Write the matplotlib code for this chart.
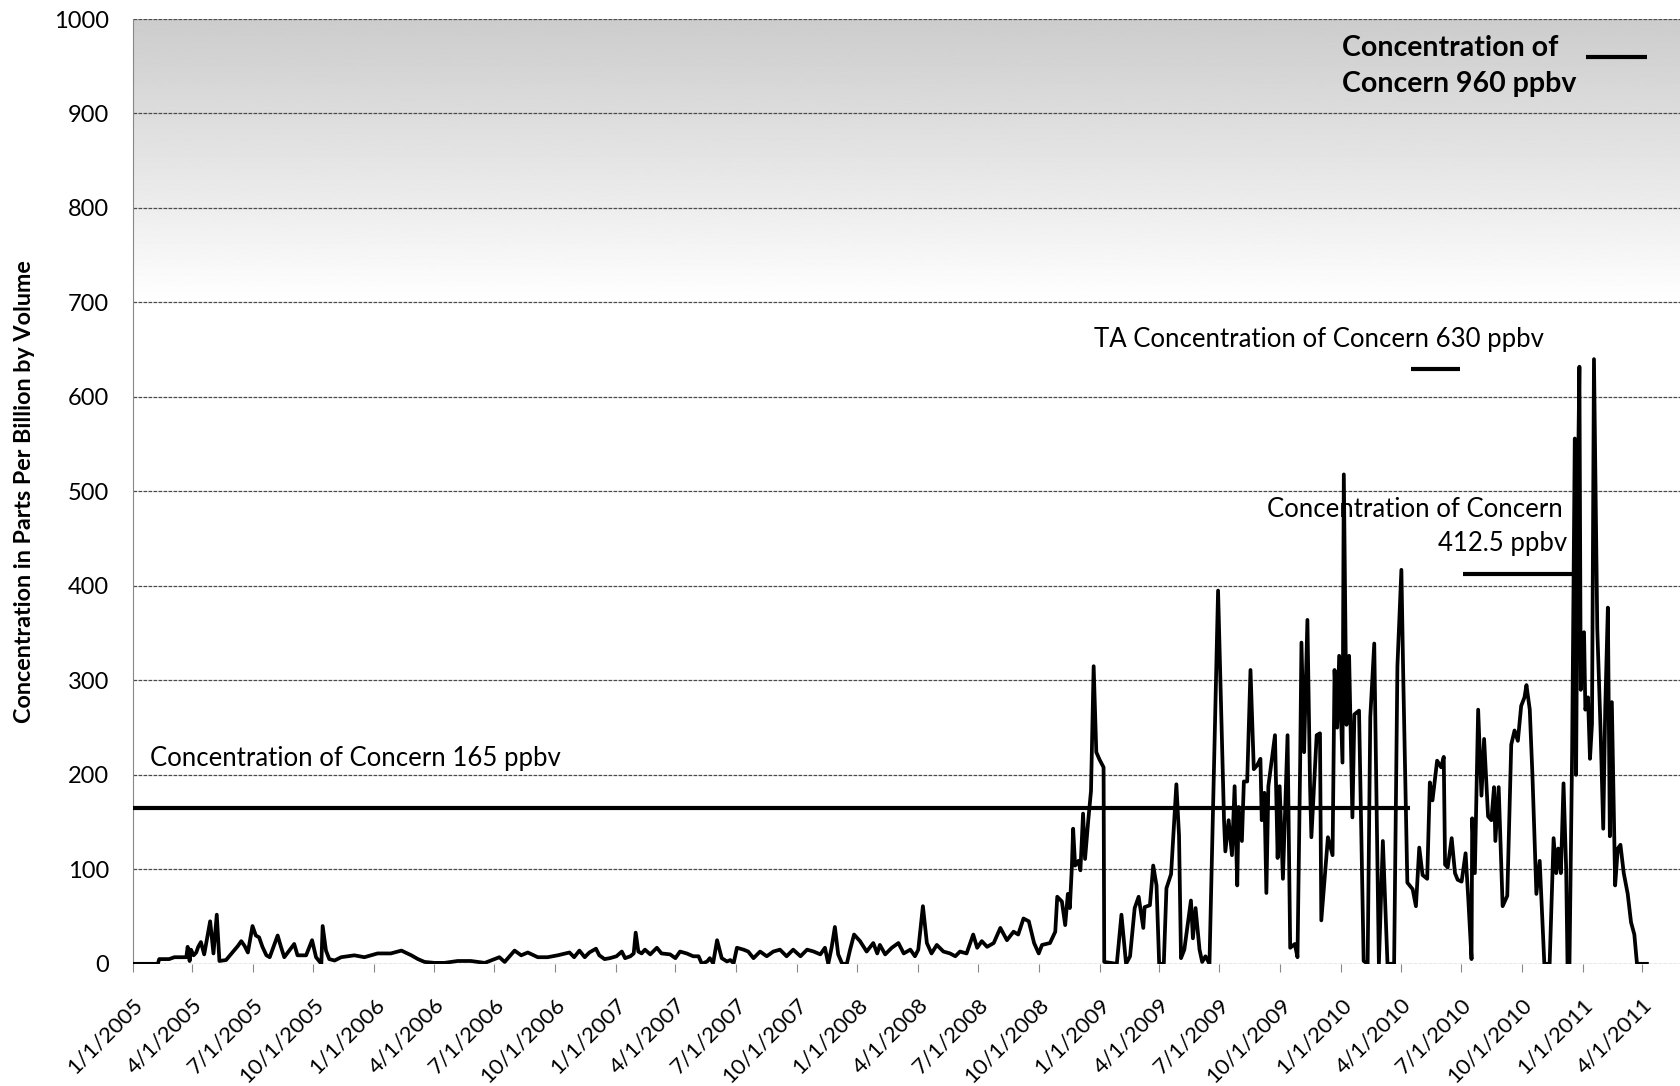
import matplotlib
matplotlib.use("Agg")
import matplotlib.pyplot as plt
import numpy as np
import pandas as pd

plt.rcParams['font.family'] = ['Lato', 'DejaVu Sans']

# ---------------- data ----------------
dates = [
    "2005-01-01", "2005-02-08", "2005-02-10", "2005-02-25", "2005-03-05", "2005-03-23", "2005-03-25",
    "2005-03-28", "2005-03-30", "2005-04-03", "2005-04-07", "2005-04-10", "2005-04-14", "2005-04-19",
    "2005-04-28", "2005-05-03", "2005-05-08", "2005-05-12", "2005-05-22", "2005-06-09", "2005-06-14",
    "2005-06-19", "2005-06-24", "2005-07-01", "2005-07-06", "2005-07-11", "2005-07-16", "2005-07-22",
    "2005-07-27", "2005-08-08", "2005-08-13", "2005-08-18", "2005-09-02", "2005-09-07", "2005-09-20",
    "2005-09-29", "2005-10-05", "2005-10-13", "2005-10-15", "2005-10-20", "2005-10-25", "2005-11-02",
    "2005-11-12", "2005-12-02", "2005-12-17", "2006-01-06", "2006-01-26", "2006-02-11", "2006-02-26",
    "2006-03-08", "2006-03-18", "2006-04-02", "2006-04-17", "2006-05-07", "2006-05-27", "2006-06-17",
    "2006-07-09", "2006-07-17", "2006-08-01", "2006-08-11", "2006-08-21", "2006-09-05", "2006-09-20",
    "2006-10-05", "2006-10-23", "2006-10-30", "2006-11-07", "2006-11-15", "2006-11-22", "2006-12-02",
    "2006-12-07", "2006-12-15",
    "2006-12-23", "2007-01-02", "2007-01-10", "2007-01-15", "2007-01-23", "2007-01-28", "2007-01-31",
    "2007-02-04", "2007-02-09", "2007-02-14", "2007-02-22", "2007-03-04", "2007-03-11", "2007-03-24",
    "2007-04-01", "2007-04-08", "2007-04-18", "2007-04-28", "2007-05-06", "2007-05-11", "2007-05-19",
    "2007-05-23", "2007-05-28", "2007-06-03", "2007-06-10", "2007-06-18", "2007-06-23", "2007-06-28",
    "2007-07-03", "2007-07-13", "2007-07-20", "2007-07-28", "2007-08-07", "2007-08-17", "2007-08-27",
    "2007-09-06", "2007-09-16", "2007-09-26", "2007-10-07", "2007-10-17", "2007-10-27", "2007-11-06",
    "2007-11-13", "2007-11-18", "2007-11-23", "2007-11-28", "2007-12-03", "2007-12-09", "2007-12-16",
    "2007-12-21", "2007-12-27", "2008-01-05", "2008-01-15", "2008-01-25", "2008-01-31", "2008-02-04",
    "2008-02-12", "2008-02-22", "2008-03-03", "2008-03-11", "2008-03-21", "2008-03-28", "2008-04-02",
    "2008-04-09", "2008-04-15", "2008-04-22", "2008-04-30", "2008-05-10", "2008-05-20", "2008-05-28",
    "2008-06-04", "2008-06-14", "2008-06-24", "2008-06-30", "2008-07-07", "2008-07-15", "2008-07-25",
    "2008-08-04", "2008-08-14", "2008-08-24", "2008-08-31", "2008-09-08", "2008-09-16", "2008-09-24",
    "2008-10-01", "2008-10-06", "2008-10-18", "2008-10-26",
    "2008-10-29", "2008-11-05", "2008-11-10", "2008-11-14", "2008-11-17", "2008-11-20", "2008-11-22",
    "2008-11-25", "2008-11-30", "2008-12-03", "2008-12-07", "2008-12-10", "2008-12-15", "2008-12-19",
    "2008-12-23", "2008-12-27", "2009-01-01", "2009-01-07", "2009-01-08", "2009-01-27", "2009-02-03",
    "2009-02-10", "2009-02-16", "2009-02-23", "2009-03-01", "2009-03-08", "2009-03-10", "2009-03-18",
    "2009-03-23", "2009-03-28", "2009-04-01", "2009-04-08", "2009-04-12", "2009-04-19", "2009-04-27",
    "2009-05-01", "2009-05-04", "2009-05-09", "2009-05-14", "2009-05-19", "2009-05-22", "2009-05-26",
    "2009-06-01", "2009-06-05", "2009-06-10", "2009-06-16", "2009-06-29",
    "2009-07-08", "2009-07-10", "2009-07-15", "2009-07-20", "2009-07-24", "2009-07-28", "2009-07-30",
    "2009-08-04", "2009-08-07", "2009-08-12", "2009-08-17", "2009-08-22", "2009-08-27", "2009-09-01",
    "2009-09-03", "2009-09-07", "2009-09-10", "2009-09-13", "2009-09-23", "2009-09-27", "2009-09-30",
    "2009-10-05", "2009-10-12", "2009-10-16", "2009-10-23", "2009-10-27", "2009-10-31", "2009-11-02",
    "2009-11-06", "2009-11-11", "2009-11-15", "2009-11-17", "2009-11-25", "2009-11-30", "2009-12-02",
    "2009-12-12", "2009-12-19", "2009-12-22", "2009-12-26", "2009-12-29", "2010-01-03", "2010-01-05",
    "2010-01-09", "2010-01-13", "2010-01-18", "2010-01-21", "2010-01-28", "2010-02-04", "2010-02-10",
    "2010-02-14", "2010-02-20", "2010-02-27", "2010-03-05", "2010-03-12", "2010-03-22", "2010-03-27",
    "2010-04-02", "2010-04-05", "2010-04-11", "2010-04-19", "2010-04-24", "2010-04-29", "2010-05-04",
    "2010-05-11", "2010-05-15", "2010-05-19", "2010-05-26",
    "2010-06-01", "2010-06-05", "2010-06-07", "2010-06-11", "2010-06-17", "2010-06-22", "2010-06-26",
    "2010-07-02", "2010-07-08", "2010-07-12", "2010-07-17", "2010-07-18", "2010-07-22", "2010-07-27",
    "2010-08-01", "2010-08-05", "2010-08-11", "2010-08-16", "2010-08-20", "2010-08-22", "2010-08-27",
    "2010-09-02", "2010-09-09", "2010-09-15", "2010-09-20", "2010-09-25", "2010-09-30", "2010-10-05",
    "2010-10-08", "2010-10-13", "2010-10-17", "2010-10-23", "2010-10-28", "2010-11-04", "2010-11-12",
    "2010-11-18", "2010-11-22", "2010-11-25", "2010-11-29", "2010-12-03", "2010-12-07", "2010-12-09",
    "2010-12-12", "2010-12-16", "2010-12-20", "2010-12-22", "2010-12-25", "2010-12-27", "2010-12-29",
    "2011-01-03", "2011-01-05", "2011-01-09", "2011-01-12", "2011-01-15", "2011-01-18", "2011-01-23",
    "2011-01-28", "2011-02-01", "2011-02-04", "2011-02-08", "2011-02-11", "2011-02-14", "2011-02-19",
    "2011-02-23", "2011-02-27", "2011-03-04", "2011-03-10", "2011-03-15", "2011-03-20", "2011-03-24",
    "2011-04-08",
]
ppbv = [
    0, 0, 5, 5, 7, 7, 18,
    3, 15, 9, 12, 18, 23, 10,
    45, 11, 52, 3, 4, 19, 24,
    19, 12, 40, 30, 28, 18, 9,
    7, 30, 18, 7, 21, 9, 9,
    25, 7, 0, 40, 14, 5, 3.5,
    7, 9, 7, 11, 11, 14, 9,
    5, 2, 1, 1, 3, 3, 1,
    7, 2, 14, 9, 12, 7, 7,
    9, 12, 7, 14, 7, 12, 16,
    9, 5,
    6, 8, 13, 6, 8, 11, 33,
    13, 11, 15, 10, 17, 11, 10,
    6, 13, 11, 8, 8, 0, 2.5,
    6, 0.7, 25, 6, 2.5, 4, 0.7,
    17, 15, 13, 6, 13, 8, 13,
    15, 8, 15, 8, 15, 13, 10,
    17, 0, 17, 39, 10, 0, 0,
    15, 31, 24, 13, 22, 11, 20,
    10, 17, 22, 11, 15, 8, 15,
    61, 22, 11, 20, 13, 11, 8,
    13, 11, 31, 17, 24, 18, 22,
    38, 25, 34, 31, 48, 45, 22,
    11, 20, 22, 34,
    71, 66, 41, 74, 59, 101, 143,
    104, 109, 99, 159, 111, 153, 183,
    315, 224, 216, 208, 2, 0, 52,
    0, 8, 59, 71, 38, 60, 62,
    104, 83, 0, 0, 80, 95, 190,
    136, 6, 15, 41, 67, 27, 59,
    15, 2, 8, 0, 395,
    152, 119, 152, 115, 188, 83, 166,
    130, 193, 193, 311, 206, 210, 217,
    152, 181, 75, 188, 242, 112, 188,
    90, 242, 17, 21, 7, 210, 340,
    224, 364, 188, 134, 242, 244, 46,
    134, 115, 311, 250, 326, 213, 518,
    253, 326, 155, 264, 268, 3, 0,
    261, 339, 0, 130, 0, 0, 315,
    417, 297, 86, 79, 61, 123, 94,
    90, 192, 173, 215,
    208, 219, 105, 102, 133, 96, 89,
    87, 117, 70, 5, 154, 96, 269,
    178, 238, 156, 152, 187, 130, 187,
    61, 72, 232, 247, 236, 273, 282,
    295, 269, 200, 74, 109, 0, 0,
    133, 96, 122, 96, 191, 100, 0,
    0, 225, 556, 200, 523, 632, 290,
    351, 269, 282, 217, 254, 640, 355,
    247, 143, 269, 377, 135, 277, 83,
    122, 126, 96, 74, 44, 31, 0,
    0,
]

# concentration-of-concern levels: (start, end, value)
concern_starts = ["2005-01-01", "2010-04-16", "2010-07-04", "2011-01-06"]
concern_ends = ["2010-04-15", "2010-06-30", "2010-12-30", "2011-04-08"]
concern_values = [165, 630, 412.5, 960]

xtick_labels = ["1/1/2005", "4/1/2005", "7/1/2005", "10/1/2005",
                "1/1/2006", "4/1/2006", "7/1/2006", "10/1/2006",
                "1/1/2007", "4/1/2007", "7/1/2007", "10/1/2007",
                "1/1/2008", "4/1/2008", "7/1/2008", "10/1/2008",
                "1/1/2009", "4/1/2009", "7/1/2009", "10/1/2009",
                "1/1/2010", "4/1/2010", "7/1/2010", "10/1/2010",
                "1/1/2011", "4/1/2011"]
yticks = [0, 100, 200, 300, 400, 500, 600, 700, 800, 900, 1000]

# ---------------- figure ----------------
fig = plt.figure(figsize=(16.8, 10.86), dpi=100)
ax = fig.add_axes([0.079, 0.1125, 0.921, 0.870])

x = pd.to_datetime(dates)
ax.set_xlim(pd.Timestamp("2005-01-01"), pd.Timestamp("2011-05-28"))
ax.set_ylim(0, 1000)

# scanned grey tone at the top of the plot (light, fading downward)
ys = np.linspace(0, 1, 300)
tone = np.interp(ys, [0.0, 0.33, 0.66, 1.0], [1.0, 0.93, 0.865, 0.80]).reshape(-1, 1)
ax.imshow(tone, extent=[0, 1, 0.70, 1.0], transform=ax.transAxes, aspect='auto',
          cmap='gray', vmin=0, vmax=1, zorder=0, origin='lower', interpolation='bilinear')

for yv in yticks:
    ax.axhline(yv, color='#4a4a4a', lw=0.9, ls=(0, (3, 1)), zorder=1)

ax.plot(x, ppbv, color='black', lw=2.7, zorder=3)

for s, e, v in zip(concern_starts, concern_ends, concern_values):
    ax.plot([pd.Timestamp(s), pd.Timestamp(e)], [v, v], color='black', lw=3.0, zorder=4,
            solid_capstyle='butt')

for sp in ['top', 'right', 'bottom']:
    ax.spines[sp].set_visible(False)
ax.spines['left'].set_color('#888888')
ax.spines['left'].set_linewidth(0.8)
ax.spines['left'].set_linestyle((0, (2, 1)))

ax.set_yticks(yticks)
ax.set_yticklabels([str(v) for v in yticks], fontsize=17)
ax.tick_params(axis='y', length=0, pad=17)

xt = pd.to_datetime(xtick_labels, format="%m/%d/%Y")
ax.set_xticks(xt)
ax.set_xticklabels(xtick_labels, fontsize=16, rotation=45, ha='right', va='top',
                   rotation_mode='anchor')
ax.tick_params(axis='x', length=6, width=0.8, color='#888888', pad=16)

ax.set_ylabel("Concentration in Parts Per Billion by Volume", fontsize=16.8, fontweight='bold',
              labelpad=14)

ax.text(pd.Timestamp("2005-01-27"), 217, "Concentration of Concern 165 ppbv", fontsize=18.5,
        va='center', ha='left', zorder=5)
ax.text(pd.Timestamp("2008-12-23"), 661, "TA Concentration of Concern 630 ppbv", fontsize=18.5,
        va='center', ha='left', zorder=5)
ax.text(pd.Timestamp("2010-12-02"), 481, "Concentration of Concern", fontsize=18.5,
        va='center', ha='right', zorder=5)
ax.text(pd.Timestamp("2010-12-08"), 445, "412.5 ppbv", fontsize=18.5,
        va='center', ha='right', zorder=5)
ax.text(pd.Timestamp("2010-01-02"), 969, "Concentration of", fontsize=20.5, fontweight='bold',
        va='center', ha='left', zorder=5)
ax.text(pd.Timestamp("2010-01-02"), 931, "Concern 960 ppbv", fontsize=20.5, fontweight='bold',
        va='center', ha='left', zorder=5)

fig.savefig("out.png", dpi=100)
